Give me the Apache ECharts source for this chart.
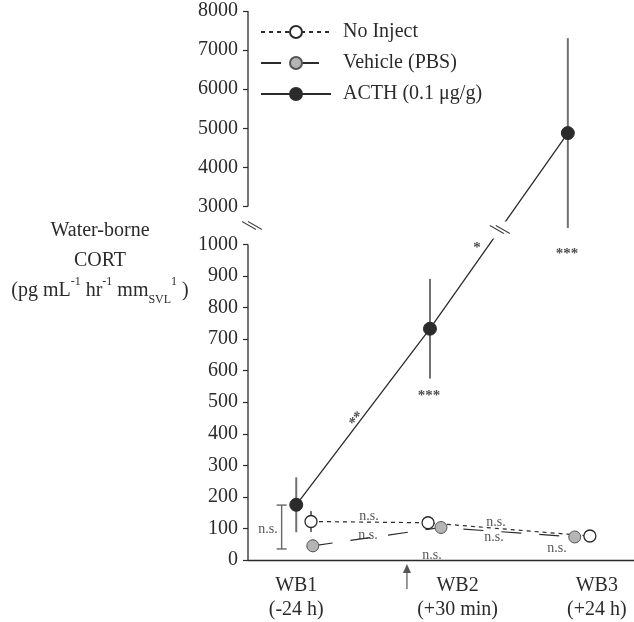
<!DOCTYPE html>
<html>
<head>
<meta charset="utf-8">
<script src="https://cdn.jsdelivr.net/npm/echarts@6/dist/echarts.min.js"></script>
<style>
  html, body { margin: 0; padding: 0; background: #fff; }
  #chart { width: 634px; height: 622px; }
</style>
</head>
<body>
<div id="chart"></div>
<script>
// time points and where their labels sit on the x scale
const timepoints = ['WB1\n(-24 h)', 'WB2\n(+30 min)', 'WB3\n(+24 h)'];
const timepointX = [0, 1.17, 2.18];

// groups are slightly offset from each other along x
const noInjectX = [0.107, 0.956, 2.13];
const noInjectMean = [122, 118, 76];
const noInjectErr = [33, 12, 12];

const vehicleX = [0.12, 1.05, 2.02];
const vehicleMean = [45, 103, 73];
const vehicleErr = [20, 8, 6];

const acthX = [0, 0.97, 1.97];
const acthMean = [175, 733, 4880];
const acthErr = [87, 158, 2425];

const lowerTicks = [0, 100, 200, 300, 400, 500, 600, 700, 800, 900, 1000];
const upperTicks = [3000, 4000, 5000, 6000, 7000, 8000];

// WB1 bracket: no inject vs ACTH
const bracketX = -0.106;
const bracketRange = [35, 174];

// injection arrow under the axis
const injectionX = 0.803;

const notes = [
  { text: 'n.s.', x: -0.205, v: 98 },
  { text: '**', x: 0.441, v: 446, rot: 52 },
  { text: '*', x: 1.311, v: 990 },
  { text: '***', x: 0.963, v: 519 },
  { text: '***', x: 1.964, v: 971 },
  { text: 'n.s.', x: 0.528, v: 139 },
  { text: 'n.s.', x: 0.520, v: 79 },
  { text: 'n.s.', x: 0.985, v: 16 },
  { text: 'n.s.', x: 1.449, v: 120 },
  { text: 'n.s.', x: 1.434, v: 73 },
  { text: 'n.s.', x: 1.891, v: 38 }
];

// broken y axis: 0-1000 below, 3000-8000 above on a compressed scale
const LOWER_MAX = 1000, UPPER_MIN = 3000, GAP = 120, UPPER_RATIO = 0.124;
function disp(v) { return v <= LOWER_MAX ? v : LOWER_MAX + GAP + (v - UPPER_MIN) * UPPER_RATIO; }
function undisp(d) { return d <= LOWER_MAX + 1 ? d : UPPER_MIN + (d - LOWER_MAX - GAP) / UPPER_RATIO; }

const X_MIN = -0.35, X_MAX = 2.45;
const FONT = 'Liberation Serif';
const INK = '#2b2b2b';

function pts(xs, ys) { return xs.map((x, i) => [x, disp(ys[i])]); }

function errorSeries(xs, means, errs) {
  return {
    type: 'custom',
    silent: true,
    z: 1,
    data: xs.map((x, i) => [x, disp(means[i] - errs[i]), disp(means[i] + errs[i])]),
    renderItem(params, api) {
      const lo = api.coord([api.value(0), api.value(1)]);
      const hi = api.coord([api.value(0), api.value(2)]);
      return {
        type: 'line',
        shape: { x1: lo[0], y1: lo[1], x2: hi[0], y2: hi[1] },
        style: { stroke: '#707070', lineWidth: 2 }
      };
    }
  };
}

function breakMark(cx, cy, mask) {
  const kids = [];
  if (mask) kids.push({ type: 'rect', shape: { x: cx - 8, y: cy - 8, width: 16, height: 17 }, style: { fill: '#fff' } });
  [-3, 3].forEach(d => kids.push({
    type: 'line',
    shape: { x1: cx + d - 7, y1: cy - 4, x2: cx + d + 7, y2: cy + 4 },
    style: { stroke: '#444', lineWidth: 1.1 }
  }));
  return kids;
}

const chart = echarts.init(document.getElementById('chart'));
const yTicks = lowerTicks.concat(upperTicks).map(disp);

chart.setOption({
  animation: false,
  grid: { left: 248, right: 0, top: 11, bottom: 61 },
  legend: {
    orient: 'vertical',
    left: 255,
    top: 17,
    itemWidth: 70,
    itemHeight: 15,
    itemGap: 11,
    textStyle: { fontFamily: FONT, fontSize: 20, color: INK, padding: [0, 0, 0, 7] },
    data: ['No Inject', 'Vehicle (PBS)', 'ACTH (0.1 μg/g)']
  },
  xAxis: {
    type: 'value',
    min: X_MIN,
    max: X_MAX,
    splitLine: { show: false },
    axisTick: { show: false },
    axisLine: { onZero: false, lineStyle: { color: INK, width: 1.3 } },
    axisLabel: {
      customValues: timepointX,
      formatter: v => {
        let best = 0;
        timepointX.forEach((t, i) => { if (Math.abs(t - v) < Math.abs(timepointX[best] - v)) best = i; });
        return timepoints[best];
      },
      fontFamily: FONT,
      fontSize: 20,
      lineHeight: 24,
      color: INK,
      margin: 14
    }
  },
  yAxis: {
    type: 'value',
    min: 0,
    max: disp(8000),
    splitLine: { show: false },
    axisLine: { show: false, onZero: false },
    axisTick: {
      show: true,
      length: 5,
      customValues: yTicks,
      lineStyle: { color: INK, width: 1.2 }
    },
    axisLabel: {
      customValues: yTicks,
      formatter: v => String(Math.round(undisp(v))),
      fontFamily: FONT,
      fontSize: 20,
      color: INK,
      margin: 10
    }
  },
  graphic: [{
    type: 'text',
    x: 100,
    y: 216,
    style: {
      text: '{n|Water-borne}\n{n|CORT}\n{n|(pg mL}{sup|-1}{n| hr}{sup|-1}{n| mm}{sub|SVL}{sup|1}{n| )}',
      align: 'center',
      verticalAlign: 'top',
      fill: INK,
      rich: {
        n: { fontFamily: FONT, fontSize: 20, lineHeight: 30, fill: INK },
        sup: { fontFamily: FONT, fontSize: 12, lineHeight: 20, verticalAlign: 'top', fill: INK },
        sub: { fontFamily: FONT, fontSize: 12, lineHeight: 16, verticalAlign: 'bottom', fill: INK }
      }
    }
  }],
  series: [
    errorSeries(noInjectX, noInjectMean, noInjectErr),
    errorSeries(vehicleX, vehicleMean, vehicleErr),
    errorSeries(acthX, acthMean, acthErr),
    {
      name: 'No Inject',
      type: 'line',
      z: 3,
      data: pts(noInjectX, noInjectMean),
      symbol: 'circle',
      symbolSize: 12,
      lineStyle: { color: INK, width: 1.2, type: [4, 4] },
      itemStyle: { color: '#fff', borderColor: INK, borderWidth: 1.3 }
    },
    {
      name: 'Vehicle (PBS)',
      type: 'line',
      z: 3,
      data: pts(vehicleX, vehicleMean),
      symbol: 'circle',
      symbolSize: 12,
      lineStyle: { color: INK, width: 1.2, type: [20, 18] },
      itemStyle: { color: '#b5b5b5', borderColor: '#555', borderWidth: 1 }
    },
    {
      name: 'ACTH (0.1 μg/g)',
      type: 'line',
      z: 3,
      data: pts(acthX, acthMean),
      symbol: 'circle',
      symbolSize: 13,
      lineStyle: { color: INK, width: 1.3 },
      itemStyle: { color: INK, borderColor: INK, borderWidth: 1 }
    },
    {
      // axis segments, break marks, WB1 bracket and injection arrow
      type: 'custom',
      silent: true,
      z: 5,
      data: [[0, 0]],
      renderItem(params, api) {
        const a0 = api.coord([X_MIN, 0]);
        const a1 = api.coord([X_MIN, disp(LOWER_MAX)]);
        const a2 = api.coord([X_MIN, disp(UPPER_MIN)]);
        const a3 = api.coord([X_MIN, disp(8000)]);
        const ax = { stroke: INK, lineWidth: 1.3 };
        const kids = [
          { type: 'line', shape: { x1: a0[0], y1: a0[1], x2: a1[0], y2: a1[1] }, style: ax },
          { type: 'line', shape: { x1: a2[0], y1: a2[1], x2: a3[0], y2: a3[1] }, style: ax }
        ];
        kids.push(...breakMark(a0[0] + 4, (a1[1] + a2[1]) / 2, false));

        // gap in the ACTH line where it crosses the break
        const p2 = api.coord([acthX[1], disp(acthMean[1])]);
        const p3 = api.coord([acthX[2], disp(acthMean[2])]);
        const cy = (a1[1] + a2[1]) / 2 + 4;
        const cx = p2[0] + (cy - p2[1]) * (p3[0] - p2[0]) / (p3[1] - p2[1]);
        kids.push(...breakMark(cx, cy, true));

        const b0 = api.coord([bracketX, disp(bracketRange[0])]);
        const b1 = api.coord([bracketX, disp(bracketRange[1])]);
        const bs = { stroke: '#666', lineWidth: 1.4 };
        kids.push(
          { type: 'line', shape: { x1: b0[0], y1: b0[1], x2: b1[0], y2: b1[1] }, style: bs },
          { type: 'line', shape: { x1: b0[0] - 5, y1: b0[1], x2: b0[0] + 5, y2: b0[1] }, style: bs },
          { type: 'line', shape: { x1: b1[0] - 5, y1: b1[1], x2: b1[0] + 5, y2: b1[1] }, style: bs }
        );

        const ar = api.coord([injectionX, 0]);
        kids.push(
          { type: 'line', shape: { x1: ar[0], y1: ar[1] + 29, x2: ar[0], y2: ar[1] + 9 }, style: { stroke: '#555', lineWidth: 1.2 } },
          { type: 'polygon', shape: { points: [[ar[0] - 4, ar[1] + 13], [ar[0], ar[1] + 4], [ar[0] + 4, ar[1] + 13]] }, style: { fill: '#555' } }
        );
        return { type: 'group', children: kids };
      }
    },
    {
      type: 'scatter',
      silent: true,
      z: 6,
      symbolSize: 1,
      itemStyle: { color: 'rgba(0,0,0,0)' },
      label: { show: true, position: 'inside', fontFamily: FONT, fontSize: 14, color: INK },
      data: notes.map(n => {
        const stars = n.text.indexOf('*') >= 0;
        return {
          value: [n.x, disp(n.v)],
          label: {
            formatter: n.text,
            rotate: n.rot || 0,
            fontSize: stars ? 15 : 14,
            fontWeight: stars ? 'bold' : 'normal',
            color: stars ? '#222' : INK
          }
        };
      })
    }
  ]
});
</script>
</body>
</html>
